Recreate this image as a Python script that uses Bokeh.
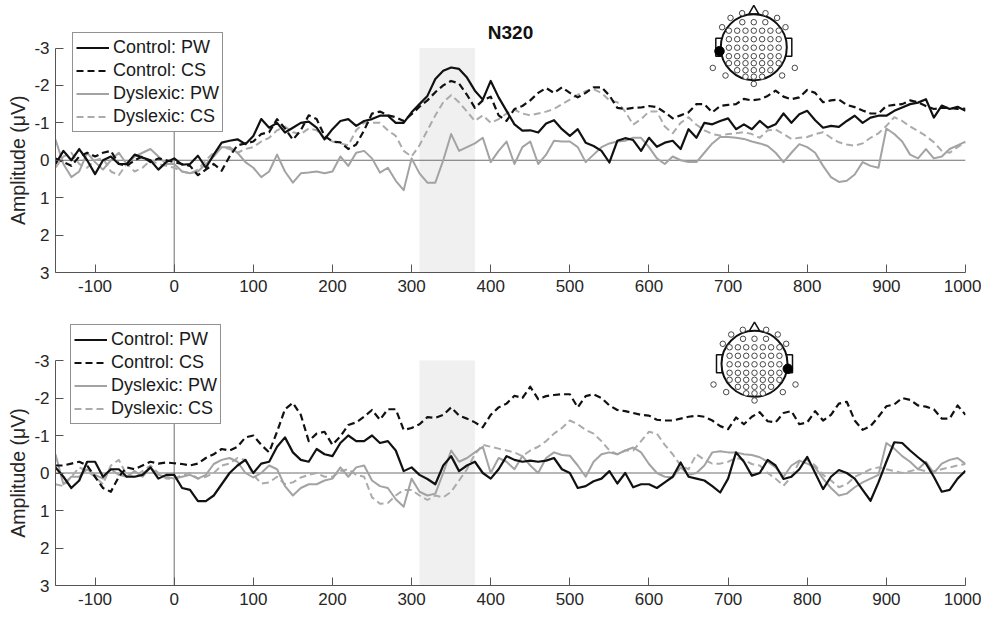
from math import pi
from bokeh.plotting import figure
from bokeh.layouts import column, row
from bokeh.models import Range1d, FixedTicker, Legend, LegendItem, Label
from bokeh.core.properties import value
from bokeh.embed import file_html
from bokeh.resources import INLINE

# ---------------- data ----------------
time_ms = list(range(-150, 1001, 10))

top_control_pw = [
    0.1, -0.25, 0.0, -0.3, 0.0, 0.37, 0.0, -0.1, 0.1, 0.1,
    -0.15, -0.07, 0.0, 0.25, 0.05, -0.05, 0.12, 0.1, -0.12, 0.2,
    -0.15, -0.47, -0.52, -0.56, -0.43, -0.65, -1.1, -0.87, -1.0, -0.74,
    -0.87, -1.0, -1.03, -0.87, -0.56, -0.83, -1.05, -1.1, -0.92, -1.05,
    -1.1, -1.19, -1.19, -1.0, -1.0, -1.28, -1.5, -1.72, -2.17, -2.39,
    -2.48, -2.44, -2.21, -1.86, -1.62, -2.12, -1.68, -1.32, -0.96, -0.79,
    -0.8, -0.74, -0.98, -1.07, -0.83, -0.65, -0.83, -0.47, -0.38, -0.25,
    0.06, -0.52, -0.59, -0.54, -0.25, -0.6, -0.36, -0.47, -0.52, -0.3,
    -0.83, -0.6, -1.0, -0.96, -1.05, -1.12, -0.83, -0.96, -0.83, -1.05,
    -0.87, -0.96, -1.25, -1.0, -1.23, -1.32, -1.07, -0.87, -0.92, -0.89,
    -1.05, -1.19, -1.0, -1.14, -1.19, -1.19, -1.32, -1.41, -1.5, -1.54,
    -1.63, -1.14, -1.46, -1.37, -1.43, -1.32]

top_control_cs = [
    -0.05, 0.05, 0.15, -0.1, -0.2, -0.1, -0.2, -0.25, 0.1, 0.15,
    0.0, -0.1, 0.05, -0.05, 0.0, 0.05, 0.1, 0.15, 0.4, 0.25,
    0.1, 0.28, -0.1, -0.4, -0.45, -0.5, -0.7, -0.75, -1.1, -0.85,
    -0.55, -0.8, -1.2, -1.1, -0.65, -0.5, -0.48, -0.3, -0.42, -0.8,
    -1.25, -1.3, -1.2, -1.15, -1.05, -1.23, -1.43, -1.6, -1.82, -2.0,
    -2.12, -2.05, -1.75, -1.4, -1.6, -1.7, -1.2, -1.05, -1.37, -1.45,
    -1.6, -1.8, -1.93, -1.8, -1.95, -1.8, -1.68, -1.8, -1.95, -1.95,
    -1.73, -1.4, -1.37, -1.4, -1.41, -1.45, -1.42, -1.28, -1.12, -1.2,
    -1.28, -1.5, -1.5, -1.28, -1.45, -1.48, -1.5, -1.64, -1.6, -1.63,
    -1.72, -1.86, -1.7, -1.63, -1.68, -1.88, -1.8, -1.55, -1.6, -1.62,
    -1.48, -1.42, -1.33, -1.25, -1.25, -1.45, -1.48, -1.5, -1.6, -1.55,
    -1.45, -1.37, -1.4, -1.4, -1.37, -1.38]

top_dyslexic_pw = [
    -0.55, 0.1, 0.45, 0.3, -0.2, 0.05, 0.25, 0.0, -0.2, 0.1,
    -0.1, -0.2, -0.3, -0.1, 0.1, 0.1, 0.3, 0.35, 0.3, 0.1,
    -0.1, -0.35, -0.35, -0.2, 0.05, 0.2, 0.45, 0.3, -0.15, 0.3,
    0.6, 0.35, 0.33, 0.3, 0.35, 0.3, -0.1, 0.15, -0.2, -0.25,
    -0.05, 0.33, 0.2, 0.55, 0.8, -0.05, 0.35, 0.6, 0.6, 0.0,
    -0.7, -0.25, -0.35, -0.45, -0.6, 0.05, -0.25, -0.5, 0.1, -0.35,
    -0.5, 0.1, -0.15, -0.52, -0.5, -0.5, -0.35, 0.05, -0.15, -0.35,
    -0.45, -0.5, -0.52, -0.6, -0.6, -0.35, -0.05, 0.1, -0.1, 0.0,
    0.05, 0.05, -0.2, -0.45, -0.62, -0.62, -0.6, -0.57, -0.5, -0.45,
    -0.38, -0.2, 0.05, -0.2, -0.43, -0.35, -0.2, 0.15, 0.45, 0.58,
    0.55, 0.38, 0.05, 0.15, 0.2, -0.85, -0.7, -0.5, -0.15, -0.05,
    -0.3, -0.05, -0.1, -0.3, -0.4, -0.5]

top_dyslexic_cs = [
    0.2, -0.1, -0.2, 0.1, 0.2, 0.0, -0.05, 0.3, 0.4, 0.1,
    0.3, 0.2, 0.0, 0.1, 0.15, 0.2, 0.3, 0.35, 0.25, 0.0,
    -0.2, -0.35, -0.3, -0.2, -0.3, -0.35, -0.5, -0.6, -0.8, -0.9,
    -0.75, -0.7, -0.85, -0.8, -0.6, -0.5, -0.45, -0.4, -0.8, -1.0,
    -1.0, -1.0, -0.8, -0.65, -0.25, -0.1, -0.4, -0.8, -1.2, -1.55,
    -1.74, -1.55, -1.3, -1.05, -1.2, -1.0, -1.1, -1.25, -1.35, -1.25,
    -1.2, -1.25, -1.3, -1.37, -1.5, -1.62, -1.75, -1.85, -1.9, -1.8,
    -1.6, -1.55, -1.3, -0.95, -1.1, -1.3, -1.3, -0.9, -0.72, -1.0,
    -1.15, -0.95, -0.8, -0.7, -0.66, -0.7, -0.72, -0.75, -0.7, -0.6,
    -0.8, -0.82, -0.7, -0.57, -0.6, -0.62, -0.7, -0.75, -0.6, -0.48,
    -0.42, -0.39, -0.45, -0.6, -0.72, -0.92, -1.15, -1.05, -0.9, -0.78,
    -0.65, -0.48, -0.25, -0.2, -0.35, -0.48]

bottom_control_pw = [
    -0.15, 0.1, 0.4, 0.2, -0.3, -0.3, 0.1, -0.1, -0.1, 0.1,
    0.1, 0.05, -0.15, 0.15, 0.05, 0.05, 0.4, 0.45, 0.75, 0.75,
    0.6, 0.3, 0.0, -0.2, -0.35, 0.0, -0.25, -0.3, -0.7, -0.95,
    -0.55, -0.35, -0.3, -0.64, -0.5, -0.45, -0.8, -1.0, -0.85, -0.85,
    -1.0, -0.8, -0.85, -0.6, -0.05, -0.15, 0.05, 0.16, 0.3, -0.2,
    -0.45, -0.05, -0.2, -0.3, 0.0, 0.15, -0.1, -0.45, -0.35, -0.3,
    -0.33, -0.3, -0.33, -0.4, -0.1, 0.0, 0.4, 0.35, 0.22, 0.15,
    -0.05, 0.28, 0.0, 0.38, 0.3, 0.3, 0.4, 0.25, 0.1, -0.28,
    0.1, 0.15, 0.2, 0.35, 0.52, 0.15, -0.55, -0.3, 0.07, 0.0,
    -0.35, -0.2, 0.16, 0.1, -0.1, -0.43, 0.0, 0.43, 0.1, -0.08,
    0.0, 0.15, 0.45, 0.74, 0.25, -0.3, -0.82, -0.8, -0.6, -0.42,
    -0.25, 0.1, 0.5, 0.45, 0.15, -0.06]

bottom_control_cs = [
    -0.2, -0.2, -0.25, -0.3, -0.2, 0.1, 0.4, 0.5, 0.1, -0.15,
    -0.1, -0.2, -0.3, -0.25, -0.28, -0.26, -0.24, -0.2, -0.25, -0.4,
    -0.5, -0.64, -0.6, -0.7, -0.95, -1.0, -0.75, -0.55, -1.1, -1.7,
    -1.87, -1.55, -0.85, -1.05, -1.1, -0.75, -0.98, -1.28, -1.35, -1.5,
    -1.68, -1.42, -1.7, -1.7, -1.15, -1.2, -1.3, -1.49, -1.47, -1.55,
    -1.75, -1.53, -1.45, -1.35, -1.22, -1.55, -1.75, -1.85, -2.06, -2.0,
    -2.3, -1.97, -2.05, -2.08, -2.1, -2.1, -1.75, -2.05, -2.1, -2.0,
    -1.8, -1.68, -1.65, -1.6, -1.55, -1.53, -1.42, -1.4, -1.4, -1.45,
    -1.5, -1.53, -1.5, -1.4, -1.25, -1.17, -1.48, -1.3, -1.5, -1.62,
    -1.38, -1.35, -1.6, -1.65, -1.3, -1.35, -1.65, -1.4, -1.55, -1.85,
    -1.9, -1.4, -1.15, -1.25, -1.5, -1.78, -1.83, -2.0, -1.95, -1.8,
    -1.77, -1.7, -1.45, -1.45, -1.8, -1.55]

bottom_dyslexic_pw = [
    -0.5, 0.3, 0.1, 0.1, -0.1, 0.05, 0.15, -0.1, 0.05, 0.1,
    -0.05, 0.1, -0.15, 0.05, 0.1, 0.15, 0.1, 0.05, 0.15, 0.05,
    -0.24, -0.35, -0.4, -0.3, 0.0, 0.12, 0.0, -0.2, -0.1, 0.35,
    0.6, 0.4, 0.3, 0.3, 0.2, 0.15, -0.15, 0.1, -0.15, -0.2,
    0.2, 0.35, 0.4, 0.7, 0.9, 0.15, 0.5, 0.6, 0.55, 0.0,
    -0.6, -0.3, -0.4, -0.55, -0.7, 0.0, -0.4, -0.3, -0.1, -0.45,
    -0.2, 0.0, -0.4, -0.55, -0.48, -0.46, -0.2, 0.1, -0.3, -0.5,
    -0.55, -0.5, -0.6, -0.68, -0.55, -0.24, 0.0, 0.1, 0.12, -0.15,
    0.05, 0.0, -0.2, -0.55, -0.58, -0.55, -0.55, -0.5, -0.48, -0.42,
    -0.3, -0.15, 0.1, -0.2, -0.33, -0.25, -0.15, 0.15, 0.4, 0.6,
    0.55, 0.38, 0.25, 0.15, 0.05, -0.8, -0.65, -0.45, -0.3, -0.1,
    -0.3, 0.0, -0.25, -0.35, -0.4, -0.24]

bottom_dyslexic_cs = [
    0.3, 0.35, 0.1, -0.15, -0.05, 0.1, 0.3, -0.2, -0.35, 0.05,
    0.1, -0.05, -0.2, 0.0, 0.15, 0.16, 0.05, 0.0, 0.15, 0.1,
    0.0, -0.2, -0.25, -0.4, -0.35, 0.05, 0.28, 0.25, 0.1, 0.3,
    0.25, 0.12, 0.05, 0.0, 0.1, 0.1, -0.05, -0.1, 0.05, 0.1,
    0.65, 0.82, 0.8, 0.6, 0.45, 0.45, 0.6, 0.72, 0.6, 0.65,
    0.5, 0.2, -0.1, -0.5, -0.75, -0.7, -0.65, -0.6, -0.55, -0.45,
    -0.6, -0.7, -0.85, -1.05, -1.2, -1.4, -1.3, -1.15, -1.05, -0.85,
    -0.6, -0.5, -0.6, -0.6, -0.85, -1.1, -1.05, -0.75, -0.5, -0.2,
    -0.1, -0.5, -0.35, -0.25, -0.25, -0.3, -0.4, -0.35, -0.24, -0.2,
    0.0, 0.15, 0.34, 0.1, -0.3, -0.35, -0.2, 0.05, 0.2, 0.38,
    0.3, 0.1, 0.0, -0.1, -0.15, -0.1, -0.05, 0.0, -0.05, -0.1,
    -0.05, -0.05, -0.1, -0.15, -0.2, -0.24]

legend_labels = ["Control: PW", "Control: CS", "Dyslexic: PW", "Dyslexic: CS"]
x_ticks = [-100, 0, 100, 200, 300, 400, 500, 600, 700, 800, 900, 1000]
y_ticks = [-3, -2, -1, 0, 1, 2, 3]
x_limits = (-150, 1000)
y_limits = (-3, 3)
window_ms = (310, 380)
panel_title = "N320"
y_label = "Amplitude (μV)"

# electrode montage for the head icon (px offsets from head centre)
row_dy = [-25, -16.5, -8, 0.5, 9, 16, 23, 29.5]
row_n = [3, 7, 7, 7, 7, 7, 5, 3]
row_sp = [11.5, 8.3, 8.3, 8.3, 8.3, 8.3, 8.3, 8.3]
outer_dx = [-11.7, 11.7, -23.3, 23.3, -31.7, 31.7, -41, 41, -28.3, 28.3, 0]
outer_dy = [-34, -34, -29.3, -29.3, -20, -20, 20.7, 20.7, 28.3, 28.3, 36.7]

# ---------------- styling ----------------
FONT = "Liberation Sans"
LW = 31             # width of the y-label strip
BL, BR = 24, 16     # borders of the main plot
FRAME_W = 910
W = BL + FRAME_W + BR
STYLES = [
    dict(color="#111111", dash="solid", width=2.2),
    dict(color="#111111", dash="7 4", width=2.2),
    dict(color="#a3a3a3", dash="solid", width=2.0),
    dict(color="#ababab", dash="7 4", width=2.0),
]


def panel(series, height, bb, m3_px, p3_px, legend_xy, head_px, active_d, title=None):
    frame_h = height - bb
    ppu = (p3_px - m3_px) / (y_limits[1] - y_limits[0])
    y_top = y_limits[1] - frame_h / ppu
    ppm = FRAME_W / (x_limits[1] - x_limits[0])
    yr = Range1d(y_limits[1], y_top)

    p = figure(width=W, height=height, output_backend="svg", toolbar_location=None,
               x_range=Range1d(*x_limits), y_range=yr,
               min_border_left=BL, min_border_right=BR, min_border_top=0,
               min_border_bottom=bb)
    p.outline_line_color = None
    p.xgrid.visible = False
    p.ygrid.visible = False
    p.background_fill_color = "white"

    # window shading and reference lines
    p.quad(left=[window_ms[0]], right=[window_ms[1]], top=[y_limits[0]], bottom=[y_limits[1]],
           fill_color="#f0f0f0", line_color=None)
    p.segment(x0=[x_limits[0]], y0=[0], x1=[x_limits[1]], y1=[0], line_color="#6e6e6e", line_width=1)
    p.segment(x0=[0], y0=[y_limits[0]], x1=[0], y1=[y_limits[1]], line_color="#6e6e6e", line_width=1)

    rends = [None] * 4
    for i in [3, 2, 1, 0]:
        st = STYLES[i]
        rends[i] = p.line(time_ms, series[i], line_color=st["color"], line_width=st["width"],
                          line_dash=st["dash"], line_join="round")

    legend = Legend(items=[LegendItem(label=l, renderers=[r]) for l, r in zip(legend_labels, rends)],
                    location=legend_xy)
    legend.label_text_font = FONT
    legend.label_text_font_size = "18px"
    legend.label_text_color = "#1a1a1a"
    legend.glyph_width = 33
    legend.glyph_height = 23
    legend.label_height = 23
    legend.label_standoff = 4
    legend.padding = 3
    legend.spacing = 0
    legend.margin = 0
    legend.border_line_color = "#262626"
    legend.border_line_width = 1
    legend.background_fill_alpha = 1.0
    p.add_layout(legend, "center")

    # axes
    for ax in (p.xaxis[0], p.yaxis[0]):
        ax.axis_line_color = "#555555"
        ax.major_tick_line_color = "#555555"
        ax.major_tick_in = 8
        ax.major_tick_out = 0
        ax.minor_tick_line_color = None
        ax.major_label_text_font = FONT
        ax.major_label_text_font_size = "17px"
        ax.major_label_text_color = "#262626"
    p.xaxis.ticker = FixedTicker(ticks=x_ticks)
    p.xaxis.major_label_overrides = {t: str(t) for t in x_ticks}
    p.xaxis.major_label_standoff = 7
    p.yaxis.ticker = FixedTicker(ticks=y_ticks)
    p.yaxis.major_label_overrides = {t: str(t) for t in y_ticks}
    p.yaxis.major_label_standoff = 6
    p.yaxis.bounds = y_limits

    if title:
        p.add_layout(Label(x=(x_limits[0] + x_limits[1]) / 2, y=y_top + 31.7 / ppu, text=title,
                           text_align="center", text_baseline="middle", text_font=FONT,
                           text_font_size="19px", text_font_style="bold", text_color="#111111"))

    # head icon
    hx = x_limits[0] + head_px[0] / ppm
    hy = y_top + head_px[1] / ppu

    def dx(v):
        return [hx + a / ppm for a in v]

    def dy(v):
        return [hy + a / ppu for a in v]

    p.rect(x=dx([-35, 35]), y=dy([0, 0]), width=6, height=18, width_units="screen",
           height_units="screen", fill_color="white", line_color="#111111", line_width=1.5)
    p.scatter(x=dx([0]), y=dy([-36]), marker="triangle", size=10, fill_color="white",
              line_color="#111111", line_width=1.5)
    p.scatter(x=dx([0]), y=dy([0]), marker="circle", size=66, fill_color="white",
              line_color="#111111", line_width=2)
    ex, ey = [], []
    for rdy, n, sp in zip(row_dy, row_n, row_sp):
        for k in range(n):
            ex.append((k - (n - 1) / 2) * sp)
            ey.append(rdy)
    ex += outer_dx
    ey += outer_dy
    p.scatter(x=dx(ex), y=dy(ey), marker="circle", size=5.5, fill_color="white",
              line_color="#333333", line_width=0.9)
    p.scatter(x=dx([active_d[0]]), y=dy([active_d[1]]), marker="circle", size=9.5,
              fill_color="black", line_color="black")

    # y-label strip
    lab = figure(width=LW, height=height, output_backend="svg", toolbar_location=None,
                 x_range=Range1d(0, LW), y_range=yr, min_border_left=0, min_border_right=0,
                 min_border_top=0, min_border_bottom=bb)
    lab.axis.visible = False
    lab.grid.visible = False
    lab.outline_line_color = None
    lab.text(x=[17], y=[0], text=[y_label], angle=pi / 2, text_align="center",
             text_baseline="middle", text_font=value(FONT), text_font_size="19.5px",
             text_color="#262626")
    return row(lab, p, spacing=0)


top = panel([top_control_pw, top_control_cs, top_dyslexic_pw, top_dyslexic_cs],
            height=300, bb=28, m3_px=47.5, p3_px=272, legend_xy=(17, 140),
            head_px=(698.3, 46.7), active_d=(-34.3, 4), title=panel_title)
bottom = panel([bottom_control_pw, bottom_control_cs, bottom_dyslexic_pw, bottom_dyslexic_cs],
               height=315, bb=30, m3_px=60, p3_px=285, legend_xy=(15, 161),
               head_px=(699, 63.3), active_d=(33.3, 5))

layout = column(top, bottom, spacing=0)
open("out.html", "w").write(file_html(layout, INLINE))
